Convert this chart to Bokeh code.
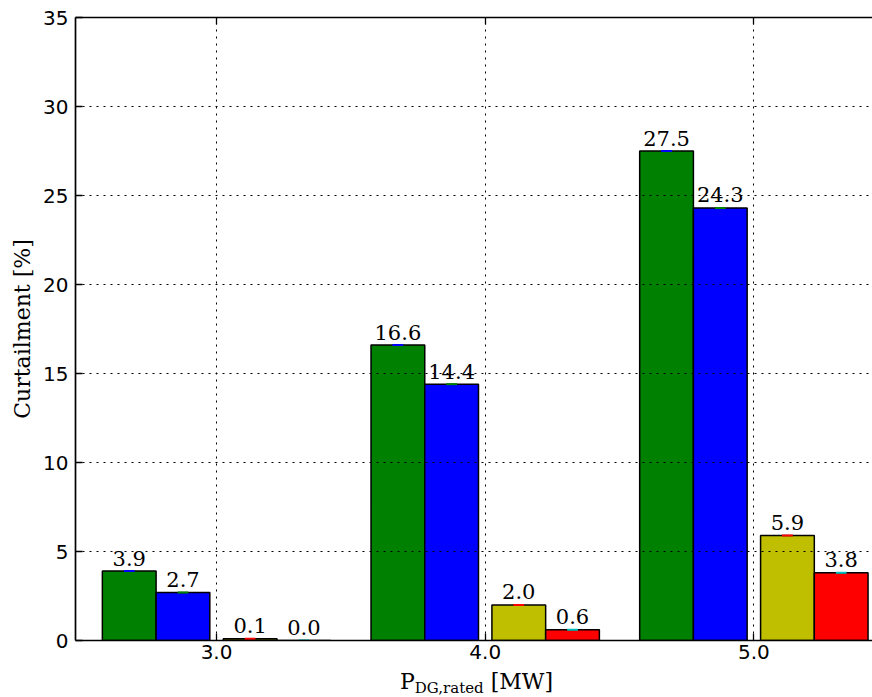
from bokeh.plotting import figure
from bokeh.models import ColumnDataSource, FixedTicker, NumeralTickFormatter, LinearAxis, Div
from bokeh.layouts import column
from bokeh.core.properties import value
from bokeh.embed import file_html
from bokeh.resources import INLINE

# ---- data ----
categories = [3.0, 4.0, 5.0]
green_vals = [3.9, 16.6, 27.5]
blue_vals = [2.7, 14.4, 24.3]
yellow_vals = [0.1, 2.0, 5.9]
red_vals = [0.0, 0.6, 3.8]
y_ticks = [0, 5, 10, 15, 20, 25, 30, 35]

series = [green_vals, blue_vals, yellow_vals, red_vals]
fills = ["#008000", "#0000ff", "#bfbf00", "#ff0000"]
cap_colors = ["#0000ff", "#008000", "#ff0000", "#00bfbf"]
offsets = [-0.325, -0.125, 0.125, 0.325]
bar_w = 0.2
cap_half = 0.02

SERIF = "DejaVu Serif"
SANS = "DejaVu Sans"

p = figure(width=872, height=670, x_range=(2.475, 5.4416), y_range=(0, 35),
           output_backend="svg", toolbar_location=None,
           min_border_left=75, min_border_right=0, min_border_top=17, min_border_bottom=30)
p.outline_line_color = None
p.background_fill_color = "white"

for vals, fc, cc, off in zip(series, fills, cap_colors, offsets):
    xs = [c + off for c in categories]
    src = ColumnDataSource(dict(x=xs, top=vals,
                                x0=[x - cap_half for x in xs], x1=[x + cap_half for x in xs],
                                lab=["%.1f" % v for v in vals]))
    p.vbar(x="x", top="top", bottom=0, width=bar_w, source=src,
           fill_color=fc, line_color="black", line_width=1.5)
    p.segment(x0="x0", x1="x1", y0="top", y1="top", source=src,
              line_color=cc, line_width=2)
    p.text(x="x", y="top", text="lab", source=src, text_align="center",
           text_baseline="middle", y_offset=-13,
           text_font=value(SERIF), text_font_size="21px", text_color="black")

# grid on top (matplotlib classic)
for g in (p.xgrid, p.ygrid):
    g.level = "overlay"
    g.grid_line_color = "black"
    g.grid_line_dash = "2 5"
    g.grid_line_width = 1
p.xgrid.ticker = FixedTicker(ticks=categories)
p.ygrid.ticker = FixedTicker(ticks=y_ticks)

# axes
xa = p.xaxis[0]
xa.ticker = FixedTicker(ticks=categories)
xa.formatter = NumeralTickFormatter(format="0.0")
ya = p.yaxis[0]
ya.ticker = FixedTicker(ticks=y_ticks)
ya.axis_label = "Curtailment [%]"
ya.axis_label_text_font = SERIF
ya.axis_label_text_font_size = "22px"
ya.axis_label_text_font_style = "normal"
ya.axis_label_text_color = "black"
ya.axis_label_standoff = 5
for a in (xa, ya):
    a.major_tick_in = 7
    a.major_tick_out = 0
    a.minor_tick_line_color = None
    a.axis_line_width = 1.7
    a.major_tick_line_width = 1.3
    a.major_label_text_font = SANS
    a.major_label_text_font_size = "20px"
    a.major_label_text_color = "black"
    a.axis_line_color = "black"
    a.major_tick_line_color = "black"
ya.major_label_standoff = 7
xa.major_label_standoff = 4

top = LinearAxis(ticker=FixedTicker(ticks=categories), major_tick_in=7, major_tick_out=0,
                 minor_tick_line_color=None, axis_line_width=1.7, major_tick_line_width=1.3,
                 major_label_text_font_size="1px", major_label_standoff=0,
                 major_label_overrides={c: "" for c in categories})
p.add_layout(top, "above")

# x axis label with subscript (real HTML text)
xlabel = Div(
    text='P<span style="font-size:15px; vertical-align:-4px; line-height:0;">DG,rated</span> [MW]',
    width=872, height=27,
    styles={"font-family": "'DejaVu Serif'", "font-size": "22px", "color": "black",
            "line-height": "23px", "padding-left": "400px", "padding-top": "0px",
            "white-space": "nowrap", "margin": "0"})

layout = column(p, xlabel, spacing=0)
open("out.html", "w").write(file_html(layout, INLINE))
